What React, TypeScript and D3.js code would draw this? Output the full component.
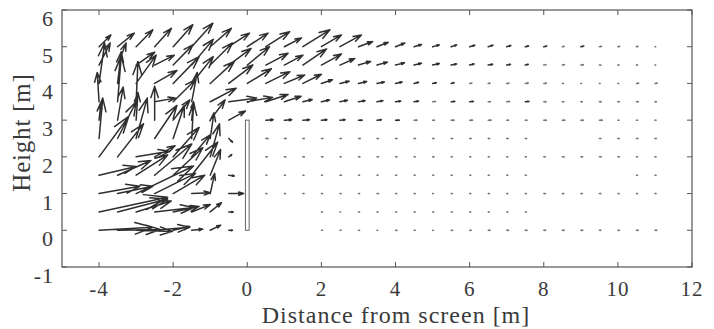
import React from "react";
import * as d3 from "d3";

// grid of measuring points
const xs = [-4, -3.5, -3, -2.5, -2, -1.5, -1, -0.5, 0, 0.5, 1, 1.5, 2, 2.5, 3, 3.5, 4, 4.5, 5, 5.5, 6, 6.5, 7, 7.5, 8, 8.5, 9, 9.5, 10, 10.5, 11];
const ys = [0, 0.5, 1, 1.5, 2, 2.5, 3, 3.5, 4, 4.5, 5];

// horizontal / vertical components per row (null = no measurement)
const u0 = [1.45, 1.15, 0.98, 0.94, 0.45, 0.3, 0.28, 0.1, null, null, null, null, 0.03, 0.03, 0.03, 0.02, 0.04, 0.03, 0.02, 0.04, 0.04, 0.05, 0.05, 0.05, 0.05, 0.05, 0.05, 0.04, 0.04, 0.05, 0.05];
const v0 = [0.08, 0.02, -0.03, 0.08, 0.1, 0.03, 0.14, 0, null, null, null, null, 0, 0, 0, 0, 0, 0, 0, 0, 0, 0, 0, 0, 0, 0, 0, 0, 0, 0, 0];
const u1 = [1.85, 1.35, 0.95, 1.05, 0.7, 0.5, 0.3, 0.12, null, null, null, null, 0.03, 0.02, 0.03, 0.03, 0.03, 0.03, 0.03, 0.03, 0.03, 0.03, 0.03, 0.03, null, null, null, null, null, null, null];
const v1 = [0.4, 0.35, 0.3, 0.12, 0.15, 0.2, 0.25, 0, null, null, null, null, 0, 0, 0, 0, 0, 0, 0, 0, 0, 0, 0, 0, null, null, null, null, null, null, null];
const u2 = [1.1, 0.95, 1.55, 1.1, 0.85, 0.5, 0.12, 0.4, null, 0.03, 0.03, 0.03, 0.03, 0.03, 0.03, 0.04, 0.03, 0.03, 0.02, 0.03, 0.03, 0.03, 0.03, 0.03, 0.04, 0.04, 0.04, 0.04, 0.03, 0.03, 0.03];
const v2 = [0.2, 0.2, 0.75, 0.55, 0.5, 0.02, 0.55, 0, null, 0, 0, 0, 0, 0, 0, 0, 0, 0, 0, 0, 0, 0, 0, 0, 0, 0, 0, 0, 0, 0, 0];
const u3 = [1.0, 0.9, 0.85, 1.0, 0.8, 0.7, 0.28, 0.15, null, 0.03, 0.03, 0.03, 0.03, 0.04, 0.03, 0.03, 0.03, 0.03, 0.03, 0.03, 0.03, 0.03, 0.03, 0.03, null, null, null, null, null, 0.03, 0.03];
const v3 = [0.24, 0.4, 0.55, 0.85, 0.75, 0.9, 0.7, -0.02, null, 0, 0, 0, 0, 0, 0, 0, 0, 0, 0, 0, 0, 0, 0, 0, null, null, null, null, null, 0, 0];
const u4 = [0.8, 0.7, 0.9, 0.55, 0.7, 0.5, 0.25, 0.08, null, 0.04, 0.04, 0.04, 0.04, 0.03, 0.04, 0.04, 0.04, 0.03, 0.04, 0.03, 0.03, 0.03, 0.03, 0.03, 0.04, 0.05, 0.05, 0.05, 0.04, 0.03, 0.03];
const v4 = [1.1, 0.9, 0.15, 0.3, 0.8, 0.6, 0.9, 0.06, null, 0, 0, 0, 0, 0, 0, 0, 0, 0, 0, 0, 0, 0, 0, 0, 0, 0, 0, 0, 0, 0, 0];
const u5 = [0.1, 0.5, 0.3, 0.6, 0.3, 0.05, 0.1, 0.1, null, 0.06, 0.05, 0.04, 0.04, 0.04, 0.05, 0.04, 0.04, 0.04, 0.04, 0.04, 0.04, 0.04, 0.04, 0.04, null, null, null, 0.04, 0.04, 0.04, 0.04];
const v5 = [1.1, 1.0, 1.1, 0.9, 0.9, 0.95, 0.7, -0.1, null, 0, 0, 0, 0, 0, 0, 0, 0, 0, 0, 0, 0, 0, 0, 0, null, null, null, 0, 0, 0, 0];
const u6 = [0.05, 0.15, 0.05, 0.0, 0.45, 0.05, 0.4, 0.45, null, 0.2, 0.2, 0.18, 0.15, 0.14, 0.1, 0.12, 0.1, 0.08, 0.05, 0.08, 0.08, 0.08, 0.05, 0.05, 0.07, 0.07, 0.07, 0.08, 0.03, 0.03, 0.03];
const v6 = [0.45, 0.9, 0.75, 0.92, 0.55, 0.5, 0.55, 0.25, null, 0.01, 0.01, 0.01, 0.01, 0.01, 0, 0.01, 0, 0, 0, 0, 0, 0, 0, 0, 0, 0, 0, 0, 0, 0, 0];
const u7 = [-0.05, 0.1, 0.05, 0.55, 0.6, 0.15, 0.7, 0.75, 0.68, 0.6, 0.45, 0.25, 0.22, 0.2, 0.18, 0.16, 0.14, 0.12, 0.08, 0.1, 0.1, 0.06, 0.08, 0.1, 0.06, 0.04, 0.04, 0.05, 0.04, 0.05, 0.04];
const v7 = [0.8, 1.25, 1.1, 0.1, 0.6, 0.8, 0.37, 0.1, 0.12, 0.2, 0.15, 0.06, 0.05, 0.04, 0.03, 0.03, 0.02, 0.02, 0.01, 0.01, 0.01, 0, 0.01, 0.01, 0, 0, 0, 0, 0, 0, 0];
const u8 = [0.15, 0.1, 0.54, 0.6, 0.7, 0.58, 0.65, 0.65, 0.65, 0.65, 0.55, 0.5, 0.3, 0.25, 0.22, 0.2, 0.18, 0.12, 0.1, 0.08, 0.06, 0.05, 0.06, 0.08, 0.07, 0.03, 0.02, 0.02, 0.02, 0.06, 0.06];
const v8 = [1.1, 0.86, 0.77, 0.35, 0.73, 0.73, 0.6, 0.5, 0.4, 0.32, 0.23, 0.25, 0.1, 0.06, 0.05, 0.04, 0.04, 0.03, 0.02, 0.02, 0.01, 0.01, 0.01, 0.01, 0.01, 0, 0, 0, 0, 0.01, 0.01];
const u9 = [0.3, 0.23, 0.5, 0.53, 0.53, 0.58, 0.6, 0.6, 0.6, 0.6, 0.5, 0.64, 0.54, 0.4, 0.33, 0.28, 0.24, 0.2, 0.18, 0.15, 0.12, 0.12, 0.1, 0.08, 0.06, 0.06, 0.07, 0.04, 0.03, 0.03, 0.02];
const v9 = [0.6, 0.6, 0.35, 0.27, 0.55, 0.7, 0.6, 0.45, 0.5, 0.32, 0.27, 0.44, 0.3, 0.18, 0.1, 0.08, 0.06, 0.05, 0.04, 0.03, 0.03, 0.02, 0.02, 0.02, 0.01, 0.01, 0.01, 0, 0, 0, 0];
const u10 = [0.32, 0.45, 0.45, 0.45, 0.53, 0.57, 0.57, 0.56, 0.56, 0.64, 0.46, 0.73, 0.54, 0.58, 0.38, 0.3, 0.25, 0.2, 0.18, 0.15, 0.14, 0.13, 0.11, 0.09, 0.08, 0.05, 0.08, 0.06, 0.05, 0.04, 0.02];
const v10 = [0.32, 0.37, 0.46, 0.5, 0.6, 0.64, 0.5, 0.37, 0.37, 0.41, 0.24, 0.46, 0.32, 0.32, 0.14, 0.12, 0.1, 0.06, 0.05, 0.05, 0.04, 0.04, 0.03, 0.02, 0.02, 0.01, 0.02, 0.01, 0.01, 0.01, 0];

const uRows = [u0, u1, u2, u3, u4, u5, u6, u7, u8, u9, u10];
const vRows = [v0, v1, v2, v3, v4, v5, v6, v7, v8, v9, v10];

const xTicks = [-4, -2, 0, 2, 4, 6, 8, 10, 12];
const yTicks = [-1, 0, 1, 2, 3, 4, 5, 6];

// the screen: thin plate at x=0, 3 m high
const screenX = [-0.05, 0.05];
const screenY = [0, 3];

const W = 714;
const H = 329;
const left = 62, right = 692, top = 10, bottom = 267;

export default function App() {
  const x = d3.scaleLinear().domain([-5, 12]).range([left, right]);
  const y = d3.scaleLinear().domain([-1, 6]).range([bottom, top]);
  const kx = x(1) - x(0);
  const ky = y(0) - y(1);
  const alpha = 0.33, beta = 0.33;
  const font = "'Liberation Serif', 'DejaVu Serif', serif";

  const big: string[] = [];
  const tiny: string[] = [];
  ys.forEach((yy, r) => {
    xs.forEach((xx, c) => {
      const u = uRows[r][c];
      const v = vRows[r][c];
      if (u == null || v == null) return;
      const x0 = x(xx), y0 = y(yy);
      const dx = u * kx, dy = -v * ky;
      const x1 = x0 + dx, y1 = y0 + dy;
      const h1x = x1 - alpha * (dx + beta * dy), h1y = y1 - alpha * (dy - beta * dx);
      const h2x = x1 - alpha * (dx - beta * dy), h2y = y1 - alpha * (dy + beta * dx);
      const d = `M${x0},${y0}L${x1},${y1}M${h1x},${h1y}L${x1},${y1}L${h2x},${h2y}`;
      if (Math.hypot(dx, dy) < 3) tiny.push(d);
      else big.push(d);
    });
  });

  return (
    <svg width={W} height={H} style={{ position: "absolute", left: 0, top: 0, background: "#fff" }}>
      <rect x={left} y={top} width={right - left} height={bottom - top} fill="#fff" stroke="#555" strokeWidth={1.2} />
      {/* ticks inside on all sides */}
      {xTicks.map((t) => (
        <g key={"xt" + t}>
          <line x1={x(t)} x2={x(t)} y1={bottom} y2={bottom - 5} stroke="#555" />
          <line x1={x(t)} x2={x(t)} y1={top} y2={top + 5} stroke="#555" />
          <text x={x(t)} y={bottom + 29} textAnchor="middle" fontFamily={font} fontSize={21} fill="#3a3a3a" letterSpacing={1}>
            {String(t)}
          </text>
        </g>
      ))}
      {yTicks.map((t) => (
        <g key={"yt" + t}>
          <line x1={left} x2={left + 5} y1={y(t)} y2={y(t)} stroke="#555" />
          <line x1={right} x2={right - 5} y1={y(t)} y2={y(t)} stroke="#555" />
          <text x={54} y={y(t) + 16} textAnchor="end" fontFamily={font} fontSize={22} fill="#3a3a3a" letterSpacing={1}>
            {String(t)}
          </text>
        </g>
      ))}
      <path d={tiny.join("")} fill="none" stroke="#777" strokeWidth={1.5} strokeLinecap="round" strokeLinejoin="round" />
      <path d={big.join("")} fill="none" stroke="#2f2f2f" strokeWidth={1.5} strokeLinecap="round" strokeLinejoin="round" />
      <rect
        x={x(screenX[0])}
        y={y(screenY[1])}
        width={x(screenX[1]) - x(screenX[0])}
        height={y(screenY[0]) - y(screenY[1])}
        fill="#fff"
        stroke="#666"
        strokeWidth={1}
      />
      <text x={396} y={323} textAnchor="middle" fontFamily={font} fontSize={24} fill="#3a3a3a" letterSpacing={1}>
        Distance from screen [m]
      </text>
      <text
        transform={`translate(30,${(top + bottom) / 2 - 6}) rotate(-90)`}
        textAnchor="middle"
        fontFamily={font}
        fontSize={25}
        fill="#3a3a3a"
        letterSpacing={0.8}
      >
        Height [m]
      </text>
    </svg>
  );
}
